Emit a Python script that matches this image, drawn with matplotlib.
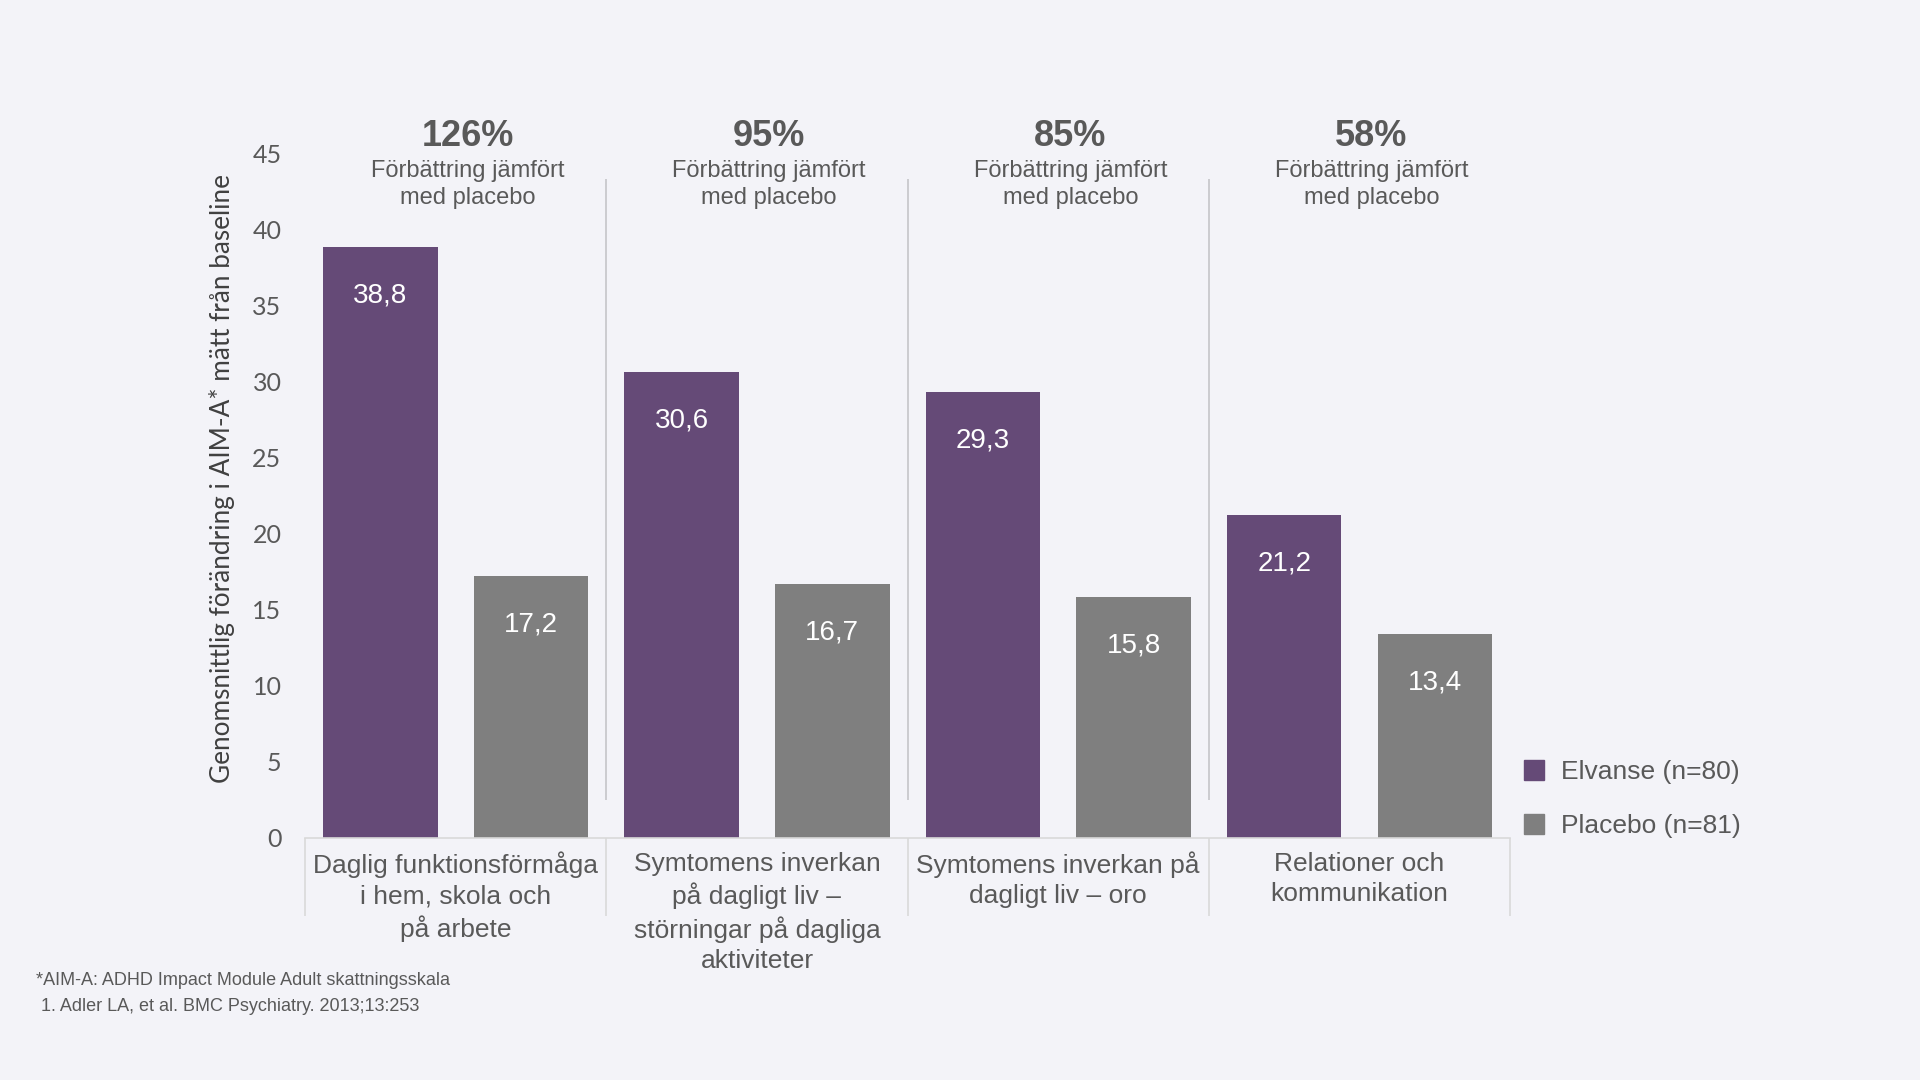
import matplotlib.pyplot as plt
import numpy as np
from matplotlib.patches import Patch

categories = [
    "Daglig funktionsförmåga\ni hem, skola och\npå arbete",
    "Symtomens inverkan\npå dagligt liv –\nstörningar på dagliga\naktiviteter",
    "Symtomens inverkan på\ndagligt liv – oro",
    "Relationer och\nkommunikation",
]
elvanse = [38.8, 30.6, 29.3, 21.2]
placebo = [17.2, 16.7, 15.8, 13.4]
improvement = ["126%", "95%", "85%", "58%"]
series_names = ["Elvanse (n=80)", "Placebo (n=81)"]
yticks = [0, 5, 10, 15, 20, 25, 30, 35, 40, 45]

BG = "#f3f3f8"
PURPLE = "#654a77"
GREY = "#7f7f7f"
TXT = "#595959"
LINE = "#d9d9d9"

fig = plt.figure(figsize=(19.2, 10.8), dpi=100)
fig.patch.set_facecolor(BG)
ax = fig.add_axes([0.1589, 0.2244, 0.6276, 0.6339])
ax.set_facecolor(BG)

x = np.arange(len(categories))
w = 0.38
b1 = ax.bar(x - 0.25, elvanse, w, color=PURPLE)
b2 = ax.bar(x + 0.25, placebo, w, color=GREY)

def fmt(v):
    return ("%.1f" % v).replace(".", ",")

for bars, vals in [(b1, elvanse), (b2, placebo)]:
    for r, v in zip(bars, vals):
        ax.annotate(fmt(v), (r.get_x() + r.get_width() / 2, v), xytext=(0, -35),
                    textcoords="offset points", ha="center", va="center",
                    fontsize=20, color="white", family="Liberation Sans")

ax.set_xlim(-0.5, len(categories) - 0.5)
ax.set_ylim(0, 45)
ax.set_yticks(yticks)
ax.set_yticklabels([str(t) for t in yticks], fontsize=18, color=TXT, family="Lato")
ax.tick_params(axis="y", length=0, pad=17)
ax.set_xticks(x)
ax.set_xticklabels(categories, fontsize=19, color=TXT, family="Liberation Sans",
                   linespacing=1.32)
ax.tick_params(axis="x", length=0, pad=10)

for s in ["top", "right", "left"]:
    ax.spines[s].set_visible(False)
ax.spines["bottom"].set_color(LINE)
ax.spines["bottom"].set_linewidth(1.2)

# table-like grid under the axis
bounds = np.arange(len(categories) + 1) - 0.5
ax.vlines(bounds, -5.15, 0, color=LINE, lw=1.2, clip_on=False)
# separators between groups
ax.vlines(bounds[1:-1], 2.5, 43.3, color="#c8c8cc", lw=1.3, clip_on=False)

for i, p in enumerate(improvement):
    ax.text(i + 0.04, 46.1, p, ha="center", va="center", fontsize=26,
            fontweight="bold", color=TXT, family="Liberation Sans", clip_on=False)
    ax.text(i + 0.04, 42.95, "Förbättring jämfört\nmed placebo", ha="center", va="center",
            fontsize=17, color=TXT, family="Liberation Sans", linespacing=1.3,
            clip_on=False)

fig.text(0.1156, 0.5565, "Genomsnittlig förändring i AIM-A* mätt från baseline",
         rotation=90, ha="center", va="center", fontsize=18.8, color="#404040", family="Lato")

handles = [Patch(color=PURPLE), Patch(color=GREY)]
leg = fig.legend(handles, series_names, loc="upper left", bbox_to_anchor=(0.794, 0.296),
                 frameon=False, handlelength=0.75, handleheight=0.75,
                 handletextpad=0.65, labelspacing=1.13, borderpad=0, borderaxespad=0,
                 prop={"family": "Liberation Sans", "size": 19})
for t in leg.get_texts():
    t.set_color(TXT)

fig.text(0.019, 0.0925, "*AIM-A: ADHD Impact Module Adult skattningsskala", fontsize=13,
         color=TXT, family="Liberation Sans", va="center")
fig.text(0.019, 0.0685, " 1. Adler LA, et al. BMC Psychiatry. 2013;13:253", fontsize=13,
         color=TXT, family="Liberation Sans", va="center")

fig.savefig("out.png", dpi=100, facecolor=BG)
